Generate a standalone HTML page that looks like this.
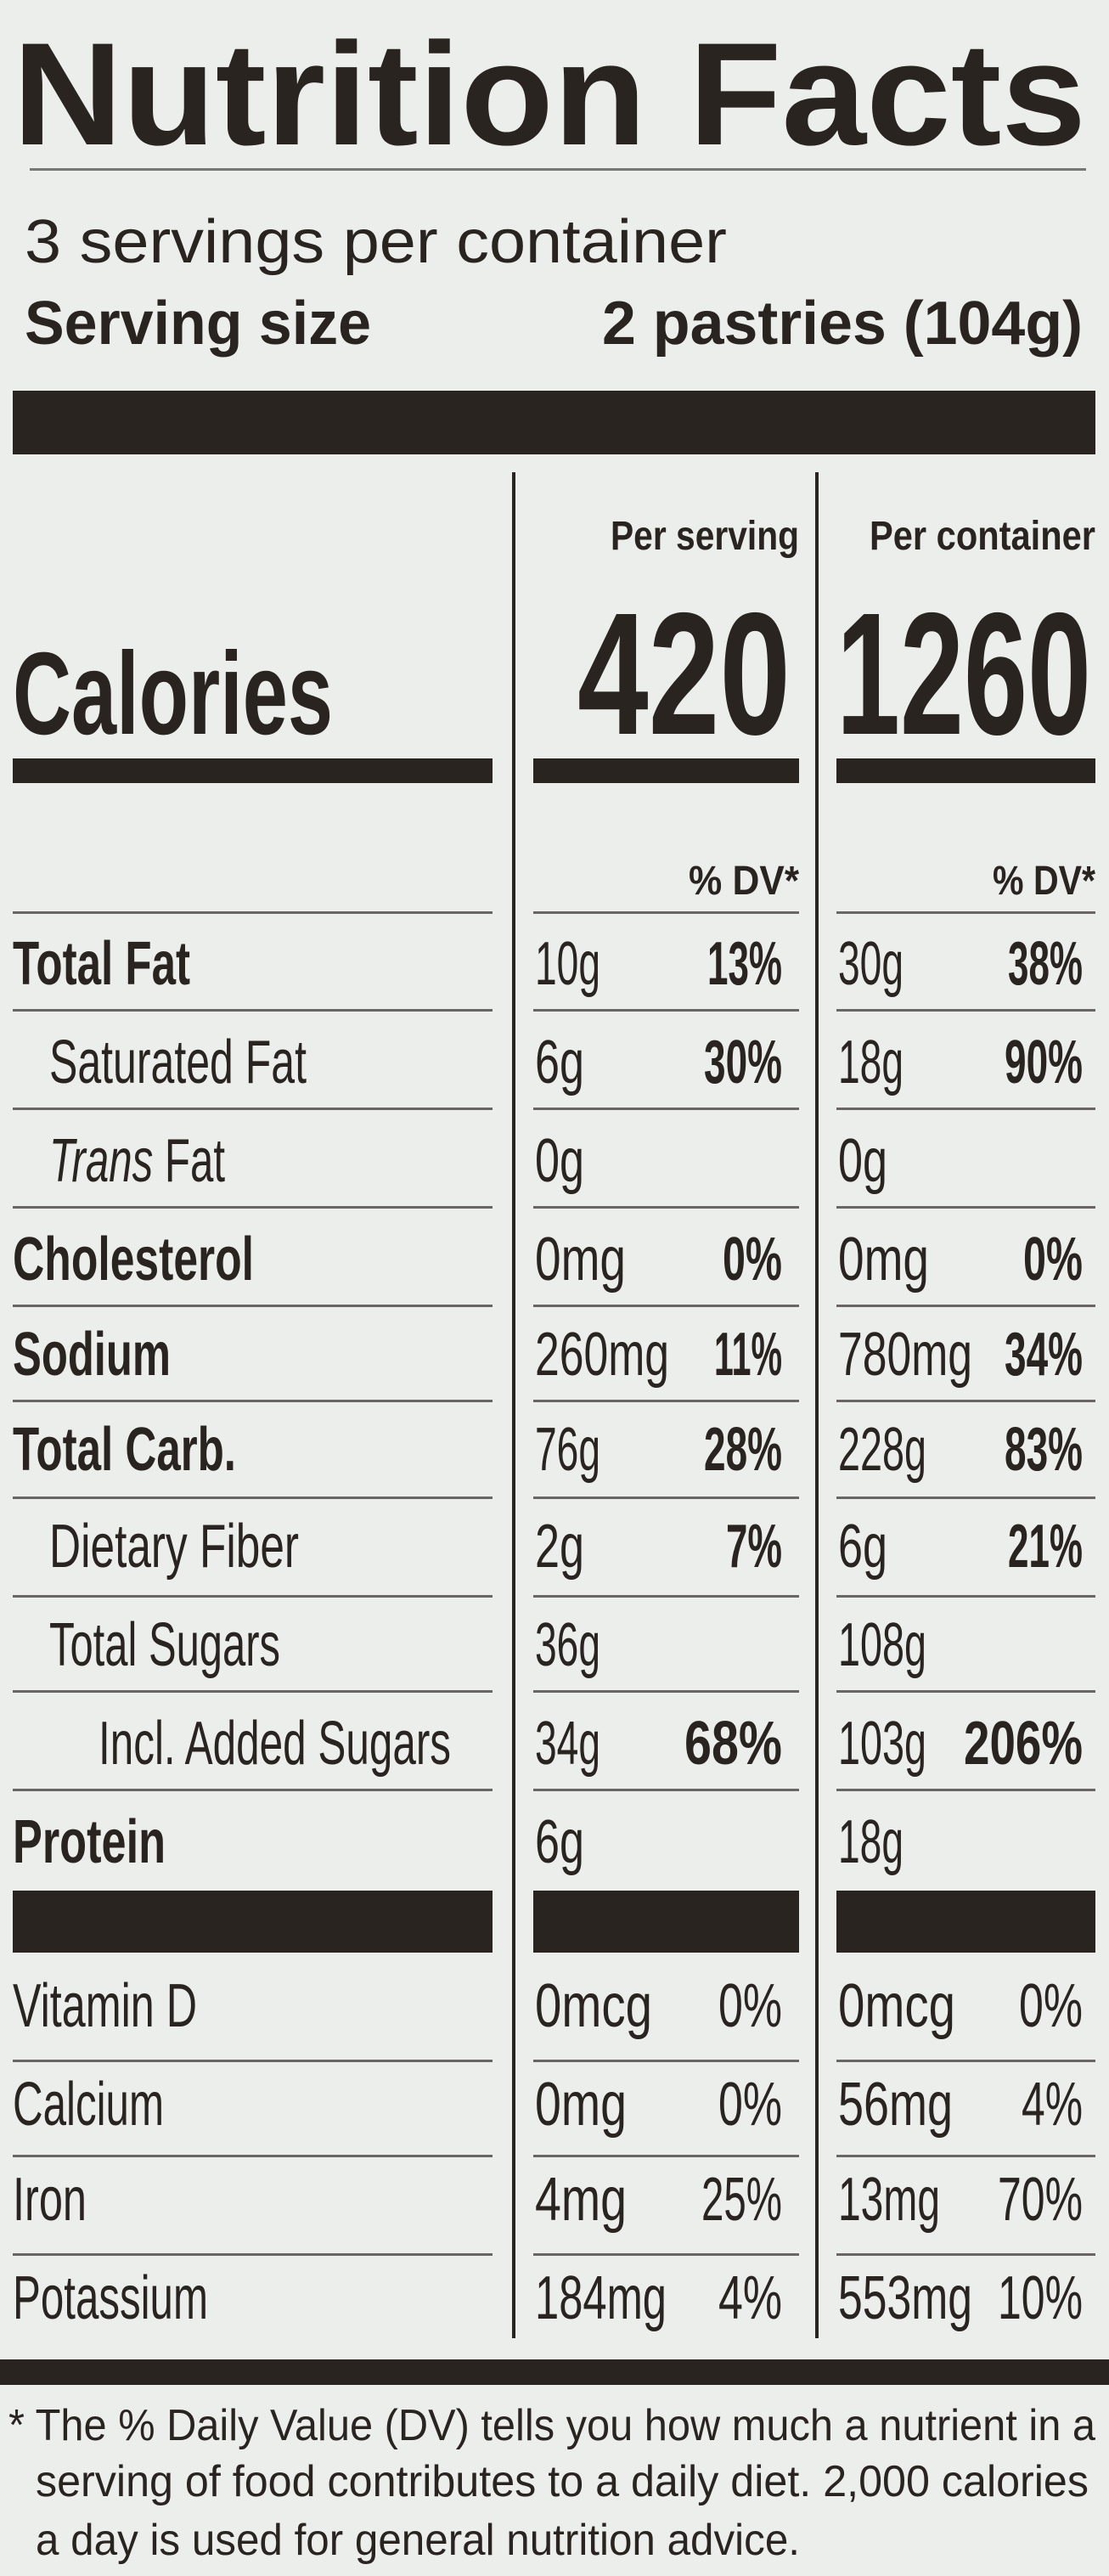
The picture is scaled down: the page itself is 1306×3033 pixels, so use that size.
<!DOCTYPE html>
<html><head><meta charset="utf-8"><style>
html,body{margin:0;padding:0;background:#eceeec;}
svg{display:block}
text{font-family:"Liberation Sans Narrow","Liberation Sans",sans-serif;fill:#2a2421}
.b{font-weight:bold}
</style></head><body>
<svg width="1306" height="3033" viewBox="0 0 1306 3033" xmlns="http://www.w3.org/2000/svg">
<rect width="1306" height="3033" fill="#eceeec"/>
<text x="15" y="170" font-size="172" class="b" font-weight="900" textLength="1264" lengthAdjust="spacingAndGlyphs" style="font-family:'Liberation Sans',sans-serif">Nutrition Facts</text>
<rect x="35" y="198" width="1244" height="3" fill="#777"/>
<text x="29" y="309" font-size="72" textLength="827" lengthAdjust="spacingAndGlyphs" style="font-family:'Liberation Sans',sans-serif">3 servings per container</text>
<text x="29" y="405" font-size="72" class="b" textLength="408" lengthAdjust="spacingAndGlyphs" style="font-family:'Liberation Sans',sans-serif">Serving size</text>
<text x="709" y="405" font-size="72" class="b" textLength="566" lengthAdjust="spacingAndGlyphs" style="font-family:'Liberation Sans',sans-serif">2 pastries (104g)</text>
<rect x="15" y="460" width="1275" height="75" fill="#2a2421"/>
<rect x="603" y="556" width="4" height="2197" fill="#2a2421"/>
<rect x="960" y="556" width="4" height="2197" fill="#2a2421"/>
<text x="719" y="647" font-size="48" class="b" textLength="222" lengthAdjust="spacingAndGlyphs">Per serving</text>
<text x="1024" y="647" font-size="48" class="b" textLength="266" lengthAdjust="spacingAndGlyphs">Per container</text>
<text x="15" y="864" font-size="138" class="b" textLength="377" lengthAdjust="spacingAndGlyphs">Calories</text>
<text x="680" y="864" font-size="205" class="b" textLength="251" lengthAdjust="spacingAndGlyphs">420</text>
<text x="985" y="864" font-size="205" class="b" textLength="300" lengthAdjust="spacingAndGlyphs">1260</text>
<rect x="15" y="893" width="565" height="29" fill="#2a2421"/>
<rect x="628" y="893" width="313" height="29" fill="#2a2421"/>
<rect x="985" y="893" width="305" height="29" fill="#2a2421"/>
<text x="811" y="1053" font-size="48" class="b" textLength="130" lengthAdjust="spacingAndGlyphs">% DV*</text>
<text x="1169" y="1053" font-size="48" class="b" textLength="121" lengthAdjust="spacingAndGlyphs">% DV*</text>
<g fill="#6a6664">
<rect x="15" y="1073" width="565" height="3"/><rect x="628" y="1073" width="313" height="3"/><rect x="985" y="1073" width="305" height="3"/>
<rect x="15" y="1188" width="565" height="3"/><rect x="628" y="1188" width="313" height="3"/><rect x="985" y="1188" width="305" height="3"/>
<rect x="15" y="1304" width="565" height="3"/><rect x="628" y="1304" width="313" height="3"/><rect x="985" y="1304" width="305" height="3"/>
<rect x="15" y="1420" width="565" height="3"/><rect x="628" y="1420" width="313" height="3"/><rect x="985" y="1420" width="305" height="3"/>
<rect x="15" y="1536" width="565" height="3"/><rect x="628" y="1536" width="313" height="3"/><rect x="985" y="1536" width="305" height="3"/>
<rect x="15" y="1648" width="565" height="3"/><rect x="628" y="1648" width="313" height="3"/><rect x="985" y="1648" width="305" height="3"/>
<rect x="15" y="1762" width="565" height="3"/><rect x="628" y="1762" width="313" height="3"/><rect x="985" y="1762" width="305" height="3"/>
<rect x="15" y="1878" width="565" height="3"/><rect x="628" y="1878" width="313" height="3"/><rect x="985" y="1878" width="305" height="3"/>
<rect x="15" y="1990" width="565" height="3"/><rect x="628" y="1990" width="313" height="3"/><rect x="985" y="1990" width="305" height="3"/>
<rect x="15" y="2106" width="565" height="3"/><rect x="628" y="2106" width="313" height="3"/><rect x="985" y="2106" width="305" height="3"/>
<rect x="15" y="2425" width="565" height="3"/><rect x="628" y="2425" width="313" height="3"/><rect x="985" y="2425" width="305" height="3"/>
<rect x="15" y="2537" width="565" height="3"/><rect x="628" y="2537" width="313" height="3"/><rect x="985" y="2537" width="305" height="3"/>
<rect x="15" y="2653" width="565" height="3"/><rect x="628" y="2653" width="313" height="3"/><rect x="985" y="2653" width="305" height="3"/>
</g>
<g fill="#2a2421">
<rect x="15" y="2226" width="565" height="73"/><rect x="628" y="2226" width="313" height="73"/><rect x="985" y="2226" width="305" height="73"/>
<rect x="0" y="2778" width="1306" height="30"/>
</g>
<g font-size="72">
<text x="15" y="1159" class="b" textLength="209" lengthAdjust="spacingAndGlyphs">Total Fat</text>
<text x="630" y="1159" textLength="77" lengthAdjust="spacingAndGlyphs">10g</text>
<text x="921" y="1159" class="b" text-anchor="end" textLength="88" lengthAdjust="spacingAndGlyphs">13%</text>
<text x="987" y="1159" textLength="77" lengthAdjust="spacingAndGlyphs">30g</text>
<text x="1275" y="1159" class="b" text-anchor="end" textLength="88" lengthAdjust="spacingAndGlyphs">38%</text>

<text x="58" y="1275" textLength="303" lengthAdjust="spacingAndGlyphs">Saturated Fat</text>
<text x="630" y="1275" textLength="58" lengthAdjust="spacingAndGlyphs">6g</text>
<text x="921" y="1275" class="b" text-anchor="end" textLength="92" lengthAdjust="spacingAndGlyphs">30%</text>
<text x="987" y="1275" textLength="77" lengthAdjust="spacingAndGlyphs">18g</text>
<text x="1275" y="1275" class="b" text-anchor="end" textLength="92" lengthAdjust="spacingAndGlyphs">90%</text>

<text x="58" y="1391" textLength="207" lengthAdjust="spacingAndGlyphs"><tspan font-style="italic">Trans</tspan> Fat</text>
<text x="630" y="1391" textLength="58" lengthAdjust="spacingAndGlyphs">0g</text>
<text x="987" y="1391" textLength="58" lengthAdjust="spacingAndGlyphs">0g</text>

<text x="15" y="1507" class="b" textLength="284" lengthAdjust="spacingAndGlyphs">Cholesterol</text>
<text x="630" y="1507" textLength="107" lengthAdjust="spacingAndGlyphs">0mg</text>
<text x="921" y="1507" class="b" text-anchor="end" textLength="70" lengthAdjust="spacingAndGlyphs">0%</text>
<text x="987" y="1507" textLength="107" lengthAdjust="spacingAndGlyphs">0mg</text>
<text x="1275" y="1507" class="b" text-anchor="end" textLength="70" lengthAdjust="spacingAndGlyphs">0%</text>

<text x="15" y="1619" class="b" textLength="186" lengthAdjust="spacingAndGlyphs">Sodium</text>
<text x="630" y="1619" textLength="158" lengthAdjust="spacingAndGlyphs">260mg</text>
<text x="921" y="1619" class="b" text-anchor="end" textLength="80" lengthAdjust="spacingAndGlyphs">11%</text>
<text x="987" y="1619" textLength="158" lengthAdjust="spacingAndGlyphs">780mg</text>
<text x="1275" y="1619" class="b" text-anchor="end" textLength="92" lengthAdjust="spacingAndGlyphs">34%</text>

<text x="15" y="1731" class="b" textLength="263" lengthAdjust="spacingAndGlyphs">Total Carb.</text>
<text x="630" y="1731" textLength="77" lengthAdjust="spacingAndGlyphs">76g</text>
<text x="921" y="1731" class="b" text-anchor="end" textLength="92" lengthAdjust="spacingAndGlyphs">28%</text>
<text x="987" y="1731" textLength="104" lengthAdjust="spacingAndGlyphs">228g</text>
<text x="1275" y="1731" class="b" text-anchor="end" textLength="92" lengthAdjust="spacingAndGlyphs">83%</text>

<text x="58" y="1845" textLength="294" lengthAdjust="spacingAndGlyphs">Dietary Fiber</text>
<text x="630" y="1845" textLength="58" lengthAdjust="spacingAndGlyphs">2g</text>
<text x="921" y="1845" class="b" text-anchor="end" textLength="66" lengthAdjust="spacingAndGlyphs">7%</text>
<text x="987" y="1845" textLength="58" lengthAdjust="spacingAndGlyphs">6g</text>
<text x="1275" y="1845" class="b" text-anchor="end" textLength="88" lengthAdjust="spacingAndGlyphs">21%</text>

<text x="58" y="1961" textLength="272" lengthAdjust="spacingAndGlyphs">Total Sugars</text>
<text x="630" y="1961" textLength="77" lengthAdjust="spacingAndGlyphs">36g</text>
<text x="987" y="1961" textLength="104" lengthAdjust="spacingAndGlyphs">108g</text>

<text x="116" y="2077" textLength="415" lengthAdjust="spacingAndGlyphs">Incl. Added Sugars</text>
<text x="630" y="2077" textLength="77" lengthAdjust="spacingAndGlyphs">34g</text>
<text x="921" y="2077" class="b" text-anchor="end" textLength="115" lengthAdjust="spacingAndGlyphs">68%</text>
<text x="987" y="2077" textLength="104" lengthAdjust="spacingAndGlyphs">103g</text>
<text x="1275" y="2077" class="b" text-anchor="end" textLength="140" lengthAdjust="spacingAndGlyphs">206%</text>

<text x="15" y="2193" class="b" textLength="180" lengthAdjust="spacingAndGlyphs">Protein</text>
<text x="630" y="2193" textLength="58" lengthAdjust="spacingAndGlyphs">6g</text>
<text x="987" y="2193" textLength="77" lengthAdjust="spacingAndGlyphs">18g</text>

<text x="15" y="2386" textLength="217" lengthAdjust="spacingAndGlyphs">Vitamin D</text>
<text x="630" y="2386" textLength="138" lengthAdjust="spacingAndGlyphs">0mcg</text>
<text x="921" y="2386" text-anchor="end" textLength="75" lengthAdjust="spacingAndGlyphs">0%</text>
<text x="987" y="2386" textLength="138" lengthAdjust="spacingAndGlyphs">0mcg</text>
<text x="1275" y="2386" text-anchor="end" textLength="75" lengthAdjust="spacingAndGlyphs">0%</text>

<text x="15" y="2502" textLength="178" lengthAdjust="spacingAndGlyphs">Calcium</text>
<text x="630" y="2502" textLength="108" lengthAdjust="spacingAndGlyphs">0mg</text>
<text x="921" y="2502" text-anchor="end" textLength="75" lengthAdjust="spacingAndGlyphs">0%</text>
<text x="987" y="2502" textLength="135" lengthAdjust="spacingAndGlyphs">56mg</text>
<text x="1275" y="2502" text-anchor="end" textLength="72" lengthAdjust="spacingAndGlyphs">4%</text>

<text x="15" y="2614" textLength="87" lengthAdjust="spacingAndGlyphs">Iron</text>
<text x="630" y="2614" textLength="108" lengthAdjust="spacingAndGlyphs">4mg</text>
<text x="921" y="2614" text-anchor="end" textLength="95" lengthAdjust="spacingAndGlyphs">25%</text>
<text x="987" y="2614" textLength="120" lengthAdjust="spacingAndGlyphs">13mg</text>
<text x="1275" y="2614" text-anchor="end" textLength="100" lengthAdjust="spacingAndGlyphs">70%</text>

<text x="15" y="2730" textLength="230" lengthAdjust="spacingAndGlyphs">Potassium</text>
<text x="630" y="2730" textLength="155" lengthAdjust="spacingAndGlyphs">184mg</text>
<text x="921" y="2730" text-anchor="end" textLength="75" lengthAdjust="spacingAndGlyphs">4%</text>
<text x="987" y="2730" textLength="158" lengthAdjust="spacingAndGlyphs">553mg</text>
<text x="1275" y="2730" text-anchor="end" textLength="100" lengthAdjust="spacingAndGlyphs">10%</text>
</g>
<g font-size="52" style="font-family:'Liberation Sans',sans-serif">
<text x="10" y="2873" textLength="1280" lengthAdjust="spacingAndGlyphs">* The % Daily Value (DV) tells you how much a nutrient in a</text>
<text x="42" y="2939" textLength="1240" lengthAdjust="spacingAndGlyphs">serving of food contributes to a daily diet. 2,000 calories</text>
<text x="42" y="3008" textLength="900" lengthAdjust="spacingAndGlyphs">a day is used for general nutrition advice.</text>
</g>
</svg>
</body></html>
